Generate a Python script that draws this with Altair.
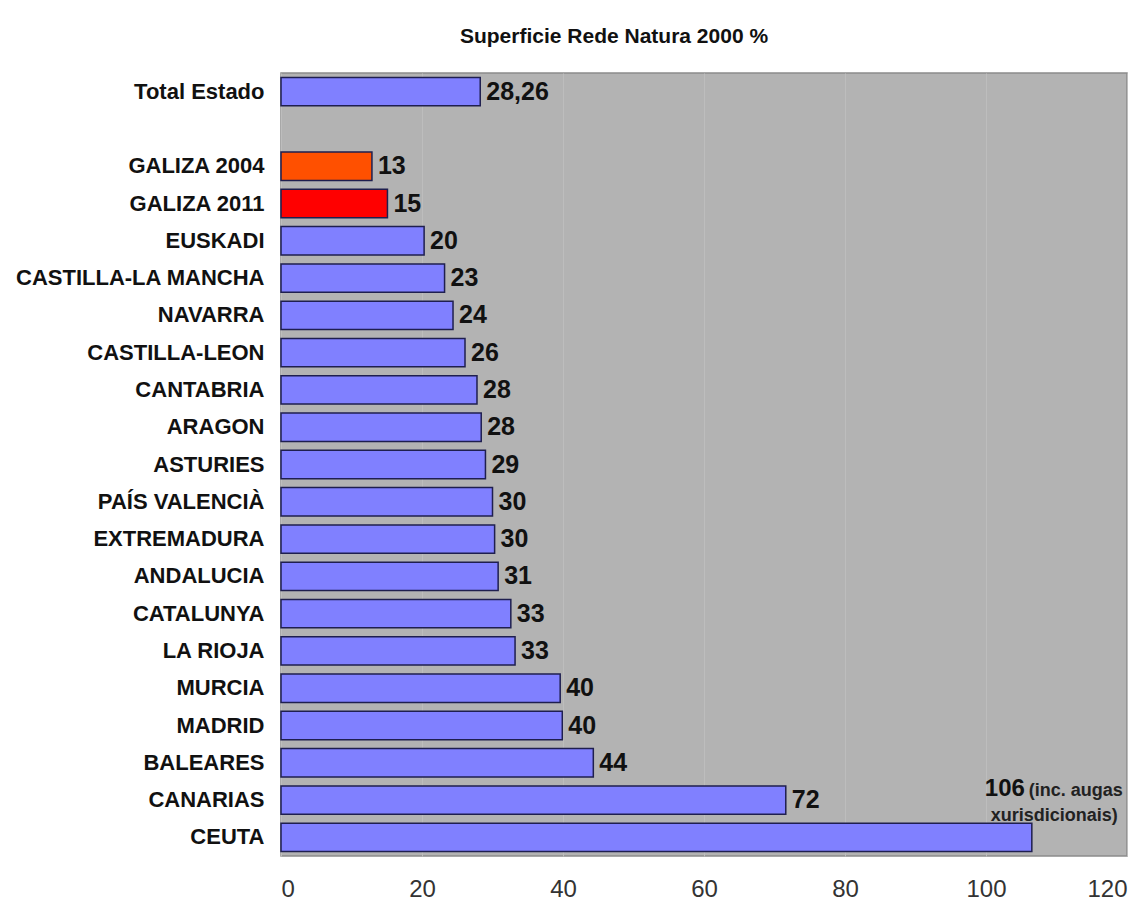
import altair as alt
import pandas as pd

categories = ["Total Estado", " ", "GALIZA 2004", "GALIZA 2011", "EUSKADI", "CASTILLA-LA MANCHA",
              "NAVARRA", "CASTILLA-LEON", "CANTABRIA", "ARAGON", "ASTURIES", "PAÍS VALENCIÀ",
              "EXTREMADURA", "ANDALUCIA", "CATALUNYA", "LA RIOJA", "MURCIA", "MADRID",
              "BALEARES", "CANARIAS", "CEUTA"]
values = [28.26, None, 12.9, 15.1, 20.3, 23.2, 24.4, 26.1, 27.8, 28.4, 29.0, 30.0,
          30.3, 30.8, 32.6, 33.2, 39.6, 39.9, 44.3, 71.6, 106.5]
labels = ["28,26", "", "13", "15", "20", "23", "24", "26", "28", "28", "29", "30",
          "30", "31", "33", "33", "40", "40", "44", "72", ""]
groups = ["otros", "", "g2004", "g2011"] + ["otros"] * 17
ticks = [0, 20, 40, 60, 80, 100, 120]
ceuta_note = ["106", "(inc. augas", "xurisdicionais)"]

df = pd.DataFrame({"cat": categories, "val": values, "lab": labels, "grp": groups})
df_bars = df[df["val"].notna()]

FONT = "Liberation Sans"

y = alt.Y("cat:N", sort=categories,
          scale=alt.Scale(domain=categories, paddingInner=0.24, paddingOuter=0.12),
          axis=alt.Axis(title=None, labelFont=FONT, labelFontSize=22, labelFontWeight="bold",
                        labelColor="#111", ticks=False, domain=False, labelPadding=17,
                        labelLimit=400))
x = alt.X("val:Q", scale=alt.Scale(domain=[0, 120], nice=False),
          axis=alt.Axis(title=None, values=ticks, labelFont=FONT, labelFontSize=24,
                        labelColor="#333", ticks=False, domain=False, labelPadding=21,
                        grid=True, gridColor="#bdbdbd", gridWidth=1))

bars = alt.Chart(df_bars).mark_bar(stroke="#1f1f4f", strokeWidth=1.5).encode(
    y=y, x=x,
    color=alt.Color("grp:N", scale=alt.Scale(domain=["otros", "g2004", "g2011"],
                                             range=["#8080ff", "#ff5000", "#ff0000"]),
                    legend=None)
)

text = alt.Chart(df_bars).mark_text(align="left", baseline="middle", dx=6, font=FONT,
                                    fontSize=25, fontWeight="bold", color="#111").encode(
    y=alt.Y("cat:N", sort=categories), x="val:Q", text="lab:N"
)

ceuta = df_bars[df_bars["cat"] == "CEUTA"].iloc[0]
note_df = pd.DataFrame({"cat": ["CEUTA"], "val": [ceuta["val"]]})

n1 = alt.Chart(note_df).mark_text(align="right", baseline="alphabetic", dx=-7, dy=-41,
                                  font=FONT, fontSize=24, fontWeight="bold", color="#111").encode(
    y=alt.Y("cat:N", sort=categories), x="val:Q", text=alt.value(ceuta_note[0]))
n2 = alt.Chart(note_df).mark_text(align="left", baseline="alphabetic", dx=-3, dy=-41,
                                  font=FONT, fontSize=18, fontWeight="bold", color="#222").encode(
    y=alt.Y("cat:N", sort=categories), x="val:Q", text=alt.value(ceuta_note[1]))
n3 = alt.Chart(note_df).mark_text(align="right", baseline="alphabetic", dx=86, dy=-16,
                                  font=FONT, fontSize=18, fontWeight="bold", color="#222").encode(
    y=alt.Y("cat:N", sort=categories), x="val:Q", text=alt.value(ceuta_note[2]))

chart = alt.layer(bars, text, n1, n2, n3).properties(
    width=846, height=783, background="white",
    title=alt.TitleParams("Superficie Rede Natura 2000 %", font=FONT, fontSize=21,
                          fontWeight="bold", color="#111", dx=-90, offset=26),
    padding={"left": 6, "top": 18, "right": 5, "bottom": 0}
).configure_view(fill="#b3b3b3", stroke="#8c8c8c", strokeWidth=1.5)

chart.save("out.html", embed_options={"renderer": "svg", "actions": False})
